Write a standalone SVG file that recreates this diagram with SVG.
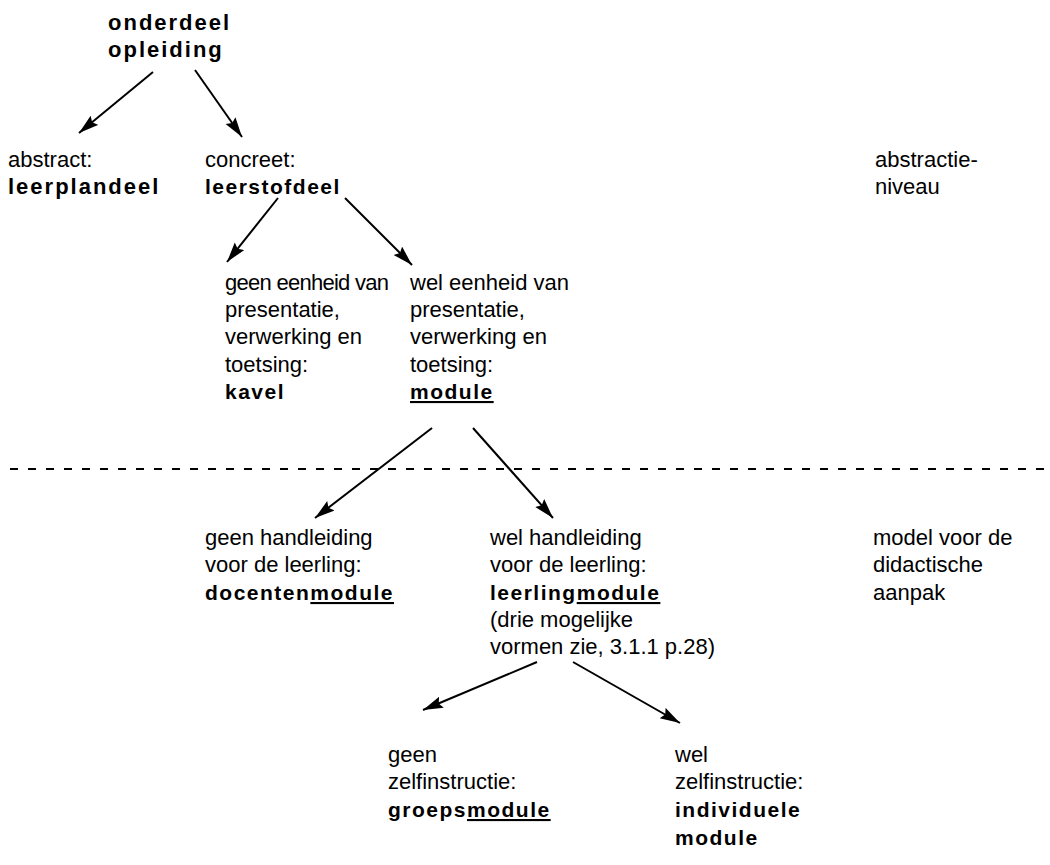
<svg xmlns="http://www.w3.org/2000/svg" width="1050" height="865" viewBox="0 0 1050 865">
<style>
text{font-family:"Liberation Sans",Arial,sans-serif;font-size:22px;fill:#000}
.b{font-weight:bold;font-size:21px;letter-spacing:1.5px}
.bt{font-size:22px;letter-spacing:2px}
.u{text-decoration:underline}
.c{stroke:#000;stroke-width:2;fill:none}
</style>
<defs>
<marker id="ah" markerUnits="userSpaceOnUse" markerWidth="22" markerHeight="14" refX="20" refY="6" orient="auto">
<path d="M0,0 L20,6 L0,12 L3,6 Z" fill="#000"/>
</marker>
</defs>
<rect width="1050" height="865" fill="#fff"/>
<g id="connectors">
<line class="c" x1="153" y1="72" x2="79" y2="133" marker-end="url(#ah)"/>
<line class="c" x1="195" y1="70" x2="242" y2="137" marker-end="url(#ah)"/>
<line class="c" x1="278" y1="198" x2="227" y2="262" marker-end="url(#ah)"/>
<line class="c" x1="345" y1="198" x2="412" y2="265" marker-end="url(#ah)"/>
<line class="c" x1="432" y1="428" x2="315" y2="518" marker-end="url(#ah)"/>
<line class="c" x1="473" y1="428" x2="553" y2="518" marker-end="url(#ah)"/>
<line class="c" x1="537" y1="662" x2="423" y2="710" marker-end="url(#ah)"/>
<line class="c" x1="573" y1="662" x2="680" y2="723" marker-end="url(#ah)"/>
<line x1="10" y1="469" x2="1050" y2="469" stroke="#000" stroke-width="2" stroke-dasharray="8,10"/>
</g>
<g id="n-onderdeel"><text class="b bt" x="108" y="30">onderdeel</text><text class="b bt" x="108" y="57">opleiding</text></g>
<g id="n-abstract"><text x="8" y="167">abstract:</text><text class="b bt" x="8" y="194">leerplandeel</text></g>
<g id="n-concreet"><text x="205" y="167">concreet:</text><text class="b" x="205" y="194">leerstofdeel</text></g>
<g id="n-abstractieniveau"><text x="875" y="167">abstractie-</text><text x="875" y="194">niveau</text></g>
<g id="n-kavel"><text x="225" y="290" textLength="164" lengthAdjust="spacing">geen eenheid van</text><text x="225" y="317">presentatie,</text><text x="225" y="344">verwerking en</text><text x="225" y="372">toetsing:</text><text class="b" x="225" y="399">kavel</text></g>
<g id="n-module"><text x="410" y="290">wel eenheid van</text><text x="410" y="317">presentatie,</text><text x="410" y="344">verwerking en</text><text x="410" y="372">toetsing:</text><text class="b u" x="410" y="399">module</text></g>
<g id="n-docentenmodule"><text x="205" y="545">geen handleiding</text><text x="205" y="572">voor de leerling:</text><text class="b" x="205" y="600">docenten<tspan class="u">module</tspan></text></g>
<g id="n-leerlingmodule"><text x="490" y="545">wel handleiding</text><text x="490" y="572">voor de leerling:</text><text class="b" x="490" y="600">leerling<tspan class="u">module</tspan></text><text x="490" y="627">(drie mogelijke</text><text x="490" y="654">vormen zie, 3.1.1 p.28)</text></g>
<g id="n-model"><text x="873" y="545">model voor de</text><text x="873" y="572">didactische</text><text x="873" y="600">aanpak</text></g>
<g id="n-groepsmodule"><text x="388" y="762">geen</text><text x="388" y="789">zelfinstructie:</text><text class="b" x="388" y="817">groeps<tspan class="u">module</tspan></text></g>
<g id="n-individuele"><text x="675" y="762">wel</text><text x="675" y="789">zelfinstructie:</text><text class="b" x="675" y="817">individuele</text><text class="b" x="675" y="845">module</text></g>
</svg>
